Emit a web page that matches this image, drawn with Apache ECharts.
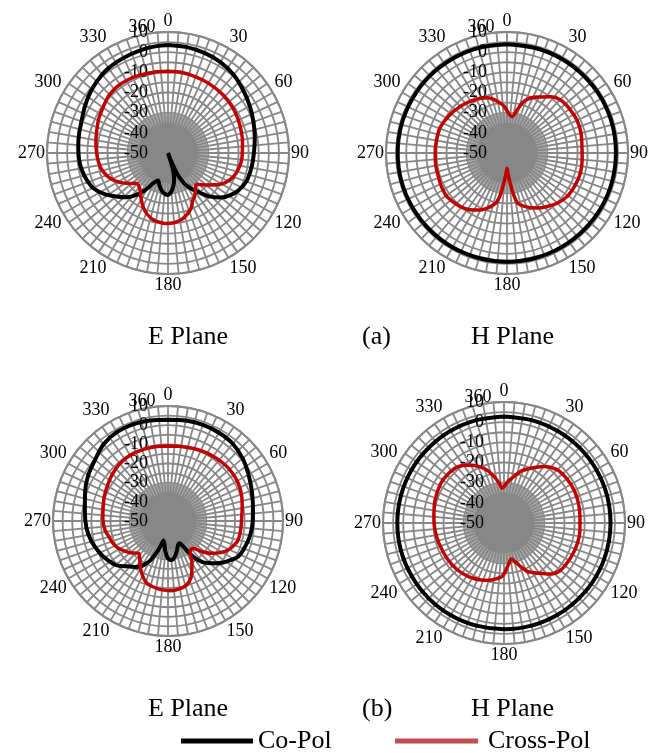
<!DOCTYPE html>
<html>
<head>
<meta charset="utf-8">
<script src="https://cdn.jsdelivr.net/npm/echarts@6/dist/echarts.min.js"></script>
<style>
  html, body { margin: 0; padding: 0; background: #fff; }
  #chart { width: 667px; height: 753px; }
</style>
</head>
<body>
<div id="chart"></div>
<script>
// radiation patterns, [angle (deg), gain (dB)]
var ePlaneCoA = [[0,3.5],[10,3.3],[20,2.8],[30,2],[40,0.6],[50,-1.4],[60,-3.2],[70,-4.9],[80,-6.3],[90,-7.4],[100,-8],[110,-8.7],[118,-10.5],[124,-12.7],[130,-15.7],[136,-19.9],[141,-24.5],[147,-29],[152,-33],[156,-38.5],[159,-46],[161,-50],[163,-43],[166,-37.5],[172,-32.5],[180,-29.2],[188,-30.5],[195,-33.5],[200,-35.5],[206,-33.3],[212,-28],[217,-24],[223,-20],[230,-16.5],[237,-12.5],[245,-9],[252,-7.5],[259,-6.4],[266,-5.8],[274,-5.4],[282,-4.9],[291,-4.2],[299,-2.8],[307,-1.3],[315,0],[323,1.2],[331,1.8],[339,2.3],[347,2.9],[354,3.3],[360,3.5]];
var ePlaneCrossA = [[0,-9.5],[10,-9.5],[20,-9.8],[30,-10],[43,-10.3],[55,-10.8],[65,-11.5],[75,-12.2],[82,-12.7],[95,-13.3],[103,-14.2],[110,-15.5],[116,-17.5],[121,-19.8],[125,-22.5],[129,-24.7],[133,-27],[138,-28.9],[142,-28],[145,-26.5],[149,-24.5],[152,-23.7],[157,-20.5],[163,-18],[170,-16],[180,-15],[192,-16],[199,-18],[205,-20.7],[211,-24],[217,-27],[223,-28.4],[226,-28.4],[230,-26.5],[234,-24.5],[238,-22.3],[241,-20.9],[248,-18.2],[256,-16.1],[263,-15.2],[270,-14.6],[279,-13.8],[288,-12.9],[297,-11.6],[306,-10.5],[314,-9.2],[322,-8.5],[331,-8.6],[340,-8.9],[350,-9.3],[360,-9.5]];
var hPlaneCoA = [[0,3.9],[15,3.9],[30,4],[45,4],[60,4.1],[75,4.1],[90,4],[105,4],[120,4],[135,3.9],[150,3.9],[165,3.9],[180,3.9],[195,3.9],[210,4],[225,4],[240,4.1],[255,4.2],[270,4.2],[285,4.2],[300,4.1],[315,4.1],[330,4],[345,4],[360,3.9]];
var hPlaneCrossA = [[0,-29],[4,-31],[8,-31.8],[13,-28.2],[18,-23.2],[24,-20],[31,-17.6],[38,-14.6],[45,-12.7],[55,-12],[65,-11.7],[75,-12],[85,-12.7],[95,-12.6],[105,-12.3],[115,-12.6],[126,-13.2],[135,-14.8],[143,-16.8],[151,-18.8],[156,-20.3],[160,-21.6],[165,-23.3],[168,-24.5],[171,-29],[174,-35],[177,-39.5],[180,-42.5],[183,-39.5],[186,-35],[189,-29],[192,-25],[196,-22.8],[200,-20.8],[206,-18.5],[213,-16.4],[223,-14.5],[234,-13.2],[243,-13.5],[251,-14],[262,-14.2],[272,-14.4],[282,-14.5],[291,-14.5],[303,-15.8],[315,-17.3],[325,-18.6],[334,-19.8],[341,-21],[347,-23],[352,-25],[356,-26.5],[360,-29]];
var ePlaneCoB = [[0,2.8],[10,3.2],[20,3.4],[30,3.2],[40,2.6],[50,0.8],[60,-1.5],[70,-3.5],[80,-5],[90,-5.8],[100,-6.5],[110,-7.8],[117,-9],[122,-11.5],[127,-14],[132,-17],[136,-19.5],[140,-22],[144,-26],[147,-31],[150,-35.5],[153,-37],[157,-36.5],[162,-34.5],[168,-31.5],[175,-29.5],[180,-30.5],[185,-34],[189,-38],[193,-39.5],[196,-37],[200,-32.5],[204,-27.5],[209,-23.7],[214,-21],[220,-19],[229,-14.7],[237,-12.5],[245,-10.7],[255,-8.7],[265,-7.3],[277,-6.3],[290,-4],[300,-2],[310,-0.3],[320,2.3],[330,3.5],[340,3.7],[350,3.3],[360,2.8]];
var ePlaneCrossB = [[0,-10.9],[10,-10.5],[20,-9.9],[32,-9],[44,-8.3],[53,-8.1],[62,-8.4],[72,-9.5],[80,-10.7],[87,-11.5],[96,-11.8],[105,-12.1],[110,-13.3],[115,-14.8],[121,-18],[127,-22],[132,-26],[137,-30.4],[140,-31],[144,-30.3],[147,-28],[150,-25],[154,-21.6],[158,-18],[164,-15.2],[171,-14],[178,-13.6],[186,-14],[193,-14.8],[199,-15.8],[205,-18.5],[211,-22],[217,-25.5],[222,-27.2],[226,-26],[230,-24.2],[235,-22.5],[242,-20.2],[248,-19],[253,-18.4],[262,-16.8],[272,-16],[282,-15.4],[292,-14.3],[302,-13.2],[311,-12],[320,-10.9],[330,-10.4],[340,-10.5],[350,-10.7],[360,-10.9]];
var hPlaneCoB = [[0,2.8],[15,2.8],[30,2.8],[45,2.9],[60,2.9],[75,2.9],[90,2.8],[105,2.8],[120,2.8],[135,2.7],[150,2.7],[165,2.7],[180,2.7],[195,2.7],[210,2.8],[225,2.8],[240,2.8],[255,2.9],[270,2.9],[285,2.9],[300,2.9],[315,2.8],[330,2.8],[345,2.8],[360,2.8]];
var hPlaneCrossB = [[0,-32],[4,-30],[8,-28.3],[12,-26.5],[18,-23],[26,-19.8],[35,-15.8],[45,-12.7],[55,-11.9],[65,-11.6],[75,-11.8],[85,-12.2],[95,-12.2],[105,-12.2],[117,-12.7],[130,-13.5],[138,-16],[146,-20],[150,-21.7],[154,-23.2],[159,-26.8],[162,-28.9],[165,-30.5],[168,-31.8],[170,-31.5],[173,-29.8],[176,-28],[179,-25.5],[182,-23.5],[188,-22],[195,-20.6],[202,-19.5],[213,-18.2],[225,-17.2],[238,-16.7],[253,-16.2],[264,-15.6],[275,-15.1],[288,-14],[302,-13],[311,-13.1],[320,-13.8],[329,-16.5],[337,-19.8],[343,-23],[348,-26.5],[353,-30],[357,-32.8],[360,-32]];

var radiusTicks = [-50, -40, -30, -20, -10, 0, 10];
var angleTicks = [0, 30, 60, 90, 120, 150, 180, 210, 240, 270, 300, 330];

var plots = [
  { center: [168, 153], radius: 121, co: ePlaneCoA, cross: ePlaneCrossA },
  { center: [507, 153], radius: 121, co: hPlaneCoA, cross: hPlaneCrossA },
  { center: [168, 521], radius: 115, co: ePlaneCoB, cross: ePlaneCrossB },
  { center: [504, 523], radius: 121, co: hPlaneCoB, cross: hPlaneCrossB }
];

var serif = 'Liberation Serif, Times New Roman, serif';
var gridGray = '#878787';
var none = 'rgba(0,0,0,0)';
// the spokes merge near the centre into a solid grey disc
var ringFill = [gridGray, gridGray, gridGray, '#a9a9a9', none, none, none, none, none, none, none, none];

var chart = echarts.init(document.getElementById('chart'));

var polar = [], angleAxis = [], radiusAxis = [], series = [], graphic = [];
plots.forEach(function (p, i) {
  polar.push({ center: p.center, radius: p.radius });
  angleAxis.push({
    polarIndex: i,
    type: 'value',
    min: 0,
    max: 360,
    interval: 5,
    startAngle: 90,
    clockwise: true,
    axisLine: { lineStyle: { color: gridGray, width: 2 } },
    axisTick: { show: false },
    axisLabel: {
      margin: 2,
      color: '#000',
      fontSize: 18,
      fontFamily: serif,
      formatter: function (v) { return angleTicks.indexOf(v) >= 0 ? String(v) : ''; }
    },
    splitLine: { lineStyle: { color: gridGray, width: 1.8 } }
  });
  radiusAxis.push({
    polarIndex: i,
    type: 'value',
    min: -50,
    max: 10,
    interval: 5,
    axisLine: { show: false },
    axisTick: { show: false },
    axisLabel: {
      margin: 20,
      color: '#000',
      fontSize: 18,
      fontFamily: serif,
      formatter: function (v) { return radiusTicks.indexOf(v) >= 0 ? String(v) : ''; }
    },
    splitLine: { lineStyle: { color: gridGray, width: 1.8 } },
    splitArea: { show: true, areaStyle: { color: ringFill } }
  });
  series.push({
    name: 'Co-Pol',
    type: 'line',
    coordinateSystem: 'polar',
    polarIndex: i,
    symbol: 'none',
    smooth: 0.3,
    data: p.co.map(function (d) { return [d[1], d[0]]; }),
    lineStyle: { color: '#000', width: 4 },
    itemStyle: { color: '#000' }
  });
  series.push({
    name: 'Cross-Pol',
    type: 'line',
    coordinateSystem: 'polar',
    polarIndex: i,
    symbol: 'none',
    smooth: 0.3,
    data: p.cross.map(function (d) { return [d[1], d[0]]; }),
    lineStyle: { color: '#c00000', width: 3.5 },
    itemStyle: { color: '#c00000' }
  });
  // the extra "360" label drawn next to the top of the radius axis
  graphic.push({
    type: 'text',
    x: p.center[0] - 26,
    y: p.center[1] - p.radius - 5,
    style: {
      text: '360',
      fill: '#000',
      font: '18px ' + serif,
      textAlign: 'center',
      textVerticalAlign: 'middle'
    }
  });
});

function caption(text, left, top) {
  return {
    text: text,
    left: left,
    top: top,
    padding: 0,
    textStyle: { fontFamily: serif, fontSize: 26, fontWeight: 'normal', color: '#000' }
  };
}

chart.setOption({
  animation: false,
  backgroundColor: '#fff',
  title: [
    caption('E Plane', 148, 324),
    caption('(a)', 362, 324),
    caption('H Plane', 471, 324),
    caption('E Plane', 148, 696),
    caption('(b)', 362, 696),
    caption('H Plane', 471, 696)
  ],
  legend: [
    {
      left: 181,
      top: 728,
      padding: 0,
      icon: 'rect',
      itemWidth: 72,
      itemHeight: 5,
      textStyle: { fontFamily: serif, fontSize: 26, color: '#000' },
      data: [{ name: 'Co-Pol', itemStyle: { color: '#000' } }]
    },
    {
      left: 395,
      top: 728,
      padding: 0,
      icon: 'rect',
      itemWidth: 83,
      itemHeight: 5,
      textStyle: { fontFamily: serif, fontSize: 26, color: '#000', padding: [0, 0, 0, 5] },
      data: [{ name: 'Cross-Pol', itemStyle: { color: '#c0504d' } }]
    }
  ],
  polar: polar,
  angleAxis: angleAxis,
  radiusAxis: radiusAxis,
  graphic: graphic,
  series: series
});
</script>
</body>
</html>
